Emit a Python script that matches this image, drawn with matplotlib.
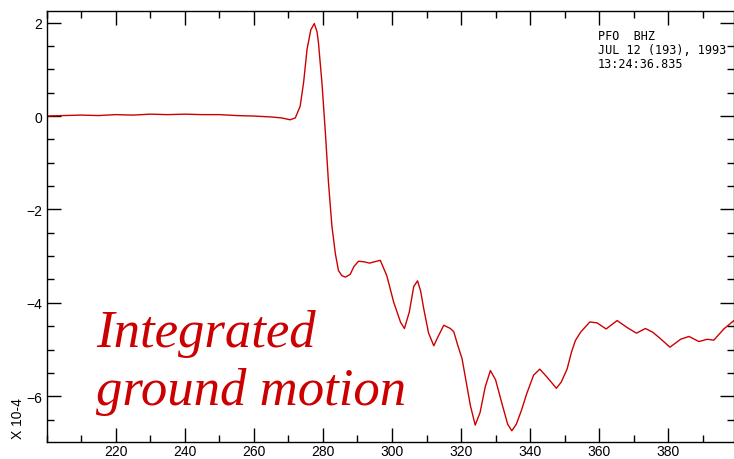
import matplotlib
matplotlib.use("Agg")
import matplotlib.pyplot as plt
from matplotlib.ticker import MultipleLocator

# ---- data (time in s, amplitude x 1e-4) ----
t = [200, 205, 210, 215, 220, 225, 230, 235, 240, 245, 250, 255, 260, 265, 268,
     270.5, 272, 273.4, 274.4, 275.4, 276.5, 277.5, 278.3, 278.7, 279.7, 280.7,
     281.6, 282.6, 283.6, 284.5, 285.5, 286.5, 287.9, 289.0, 290.3, 291.8, 293.5,
     295.0, 296.6, 298.5, 300.5, 302.5, 303.6, 305.0, 306.3, 307.4, 308.3, 309.2,
     310.6, 312.1, 313.5, 315.0, 316.9, 317.9, 319.0, 320.3, 321.5, 322.7, 324.1,
     325.5, 327.0, 328.5, 330.0, 332.0, 333.5, 334.7, 336.0, 337.5, 339.0, 341.0,
     342.8, 345.0, 347.6, 349.0, 350.7, 352.0, 353.1, 354.6, 357.3, 359.4, 362.0,
     365.2, 368.1, 370.8, 373.4, 375.5, 377.3, 380.5, 383.6, 386.0, 388.9, 391.3,
     393.2, 396.1, 399.2]
amp = [0.00, 0.01, 0.02, 0.01, 0.03, 0.02, 0.04, 0.03, 0.04, 0.03, 0.03, 0.01,
       0.00, -0.02, -0.04, -0.08, -0.04, 0.21, 0.72, 1.43, 1.85, 1.98, 1.80, 1.57,
       0.72, -0.35, -1.42, -2.36, -2.95, -3.31, -3.42, -3.45, -3.39, -3.22, -3.11,
       -3.12, -3.15, -3.12, -3.09, -3.42, -3.99, -4.42, -4.55, -4.20, -3.65, -3.53,
       -3.75, -4.13, -4.65, -4.92, -4.70, -4.48, -4.55, -4.62, -4.90, -5.20, -5.70,
       -6.20, -6.62, -6.35, -5.80, -5.45, -5.65, -6.20, -6.60, -6.74, -6.60, -6.30,
       -5.95, -5.55, -5.42, -5.60, -5.83, -5.70, -5.42, -5.05, -4.81, -4.63, -4.41,
       -4.43, -4.56, -4.38, -4.53, -4.65, -4.55, -4.63, -4.74, -4.95, -4.78, -4.72,
       -4.83, -4.78, -4.80, -4.56, -4.37]

header = ["PFO  BHZ", "JUL 12 (193), 1993", "13:24:36.835"]
label_lines = ["Integrated", "ground motion"]
scale_text = "X 10-4"

RED = "#cc0000"
tick_font = ["Liberation Sans Narrow", "DejaVu Sans Condensed", "Liberation Sans", "DejaVu Sans"]

W, H = 734, 460
fig = plt.figure(figsize=(W / 100, H / 100), dpi=100)
ax = fig.add_axes([46.7 / W, 1 - 442.5 / H, (733.5 - 46.7) / W, (442.5 - 11.5) / H])

ax.plot(t, amp, color=RED, lw=1.0)
ax.set_xlim(200, 398.9)
ax.set_ylim(-6.97, 2.26)

ax.xaxis.set_major_locator(MultipleLocator(20))
ax.xaxis.set_minor_locator(MultipleLocator(10))
ax.yaxis.set_major_locator(MultipleLocator(2))
ax.yaxis.set_minor_locator(MultipleLocator(0.5))
ax.tick_params(which="both", direction="in", top=True, right=True, color="black", width=1.0)
ax.tick_params(which="major", length=10)
ax.tick_params(which="minor", length=5)
for sp in ax.spines.values():
    sp.set_linewidth(1.0)

xt = list(range(220, 400, 20))
ax.set_xticks(xt)
ax.set_xticklabels([str(v) for v in xt], family=tick_font, fontsize=10)
yt = [-6, -4, -2, 0, 2]
ax.set_yticks(yt)
ax.set_yticklabels([("\u2212" + str(-v)) if v < 0 else str(v) for v in yt],
                   family=tick_font, fontsize=10)
ax.tick_params(axis="x", pad=2)
ax.tick_params(axis="y", pad=3)

# header text (top right)
baselines = [39.5, 54, 67.5]
for line, yb in zip(header, baselines):
    fig.text(598 / W, 1 - yb / H, line, family=["DejaVu Sans Mono"], fontsize=8.5,
             ha="left", va="baseline")

# scale factor label
fig.text(18 / W, 1 - 439 / H, scale_text, rotation=90, family=tick_font,
         fontsize=10, ha="center", va="bottom")

# big annotation
for line, yb in zip(label_lines, [346.5, 405]):
    fig.text(96 / W, 1 - yb / H, line, family=["Liberation Serif", "DejaVu Serif"],
             style="italic", fontsize=38, color=RED, ha="left", va="baseline")

fig.savefig("out.png", dpi=100)
